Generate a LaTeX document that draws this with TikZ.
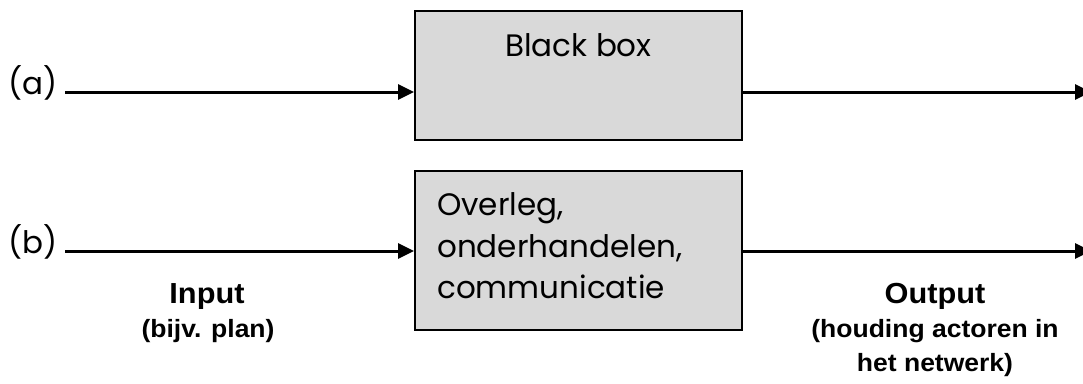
\documentclass[tikz,border=0pt]{standalone}
\usepackage{fontspec}
\usetikzlibrary{arrows.meta}
\newfontfamily\gothic{Poppins}
\newfontfamily\labelfont{Liberation Sans}
\definecolor{boxgray}{RGB}{217,217,217}
\newcommand\widetext[2][1.06]{\scalebox{#1}[1]{#2}}
\tikzset{
  box/.style={draw=black, line width=2pt, fill=boxgray, minimum width=327pt, inner sep=0pt},
  flow/.style={line width=3pt, -{Triangle[length=16pt,width=15pt]}},
  boxtext/.style={inner sep=0pt, font=\gothic\fontsize{31}{36}\selectfont},
  headtext/.style={inner sep=0pt, font=\labelfont\bfseries\fontsize{29}{33}\selectfont},
  subtext/.style={inner sep=0pt, font=\labelfont\bfseries\fontsize{25}{29}\selectfont}
}
\begin{document}
\begin{tikzpicture}[x=1pt,y=-1pt]
\useasboundingbox (0,0) rectangle (1083,383);

% the two boxes
\node[box, minimum height=129pt] (boxa) at (578.5,75.5) {};
\node[box, minimum height=159pt] (boxb) at (578.5,250.5) {};

% row labels
\node[boxtext, anchor=base west] (la) at (8,94) {(a)};
\node[boxtext, anchor=base west] (lb) at (8,253) {(b)};

% input and output arrows
\coordinate (ina) at (65,92);
\coordinate (outa) at (1091,92);
\coordinate (inb) at (65,251);
\coordinate (outb) at (1091,251);
\draw[flow] (ina) -- (ina -| boxa.west);
\draw[flow] (outa -| boxa.east) -- (outa);
\draw[flow] (inb) -- (inb -| boxb.west);
\draw[flow] (outb -| boxb.east) -- (outb);

% box contents
\node[boxtext, anchor=base] (ta) at (578.5,56) {Black box};
\node[boxtext, anchor=base west] (tb1) at (437,215) {Overleg,};
\node[boxtext, anchor=base west] (tb2) at (437,257) {onderhandelen,};
\node[boxtext, anchor=base west] (tb3) at (437,298) {communicatie};

% captions
\node[headtext, anchor=base] (inp) at (207,303) {\widetext{Input}};
\node[subtext, anchor=base] (inps) at (208,337) {\widetext{(bijv. plan)}};
\node[headtext, anchor=base] (outp) at (935,303) {\widetext{Output}};
\node[subtext, anchor=base] (outps1) at (935,337) {\widetext{(houding actoren in}};
\node[subtext, anchor=base] (outps2) at (935,371) {\widetext{het netwerk)}};
\end{tikzpicture}
\end{document}
